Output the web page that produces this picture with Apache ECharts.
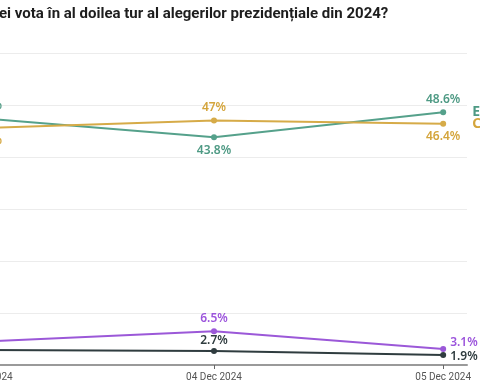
<!DOCTYPE html>
<html>
<head>
<meta charset="utf-8">
<script src="https://cdn.jsdelivr.net/npm/echarts@6/dist/echarts.min.js"></script>
<style>
html,body{margin:0;padding:0;width:480px;height:384px;overflow:hidden;background:#fff;}
#wrap{position:absolute;left:-100px;top:0;width:580px;height:384px;}
</style>
</head>
<body>
<div id="wrap"></div>
<script>
var titleText = 'ei vota în al doilea tur al alegerilor prezidențiale din 2024?';
var dates = ['03 Dec 2024', '04 Dec 2024', '05 Dec 2024'];
var lasconi = [47.4, 43.8, 48.6];
var georgescu = [45.6, 47, 46.4];
var purpleVals = [4.5, 6.5, 3.1];
var darkVals = [2.9, 2.7, 1.9];
var names = ['Elena Lasconi', 'Călin Georgescu', 'Nu știu', 'Nu voi vota'];
var yTicks = [0, 10, 20, 30, 40, 50, 60];

var colors = ['#55a18b', '#d6ab48', '#9b58d8', '#2f3c3f'];
var labelColors = ['#4e9a84', '#d4a53c', '#9c55dc', '#2f3c3f'];

function mk(vals, idx, positions, endName) {
  return {
    type: 'line',
    name: names[idx],
    data: vals.map(function (v, i) {
      var p = positions[i];
      return {
        value: [i, v],
        label: {
          position: p[0],
          offset: p[1] || [0, 0]
        }
      };
    }),
    symbol: 'circle',
    symbolSize: 6,
    lineStyle: { width: 2, color: colors[idx] },
    itemStyle: { color: colors[idx] },
    label: {
      show: true,
      color: labelColors[idx],
      fontFamily: 'Noto Sans',
      fontWeight: 600,
      fontSize: 12,
      distance: 4,
      formatter: function (p) { return p.value[1] + '%'; }
    },
    endLabel: endName ? {
      show: true,
      distance: 29,
      color: labelColors[idx],
      fontFamily: 'Noto Sans',
      fontWeight: 700,
      fontSize: 14,
      formatter: function (p) { return p.seriesName; }
    } : { show: false },
    emphasis: { disabled: true },
    animation: false
  };
}

var chart = echarts.init(document.getElementById('wrap'), null, { renderer: 'canvas' });
chart.setOption({
  animation: false,
  title: {
    text: titleText,
    left: 99,
    top: 7,
    padding: 0,
    textStyle: { fontFamily: 'Roboto', fontWeight: 700, fontSize: 15, color: '#1d1d1d' }
  },
  grid: { left: 61, right: 13, top: 53, bottom: 19 },
  xAxis: {
    type: 'value',
    min: -0.104,
    max: 2.104,
    splitLine: { show: false },
    axisLine: { show: true, onZero: false, lineStyle: { color: '#9a9a9a', width: 2 } },
    axisTick: { show: true, length: 4, lineStyle: { color: '#666' }, customValues: [0, 1, 2] },
    axisLabel: {
      customValues: [0, 1, 2],
      color: '#555',
      fontFamily: 'Roboto',
      fontSize: 10,
      margin: 7,
      formatter: function (v) { return dates[Math.round(v)]; }
    }
  },
  yAxis: {
    type: 'value',
    min: yTicks[0],
    max: yTicks[yTicks.length - 1],
    interval: 10,
    axisLine: { show: false },
    axisTick: { show: false },
    axisLabel: { show: false },
    splitLine: { lineStyle: { color: '#ececec', width: 1 } }
  },
  series: [
    mk(lasconi, 0, [['top'], ['bottom'], ['top']], true),
    mk(georgescu, 1, [['bottom'], ['top'], ['bottom']], true),
    mk(purpleVals, 2, [['top'], ['top'], ['right', [0, -6]]], false),
    mk(darkVals, 3, [['top'], ['top', [0, 3]], ['right', [0, 1]]], false)
  ]
});
</script>
</body>
</html>
